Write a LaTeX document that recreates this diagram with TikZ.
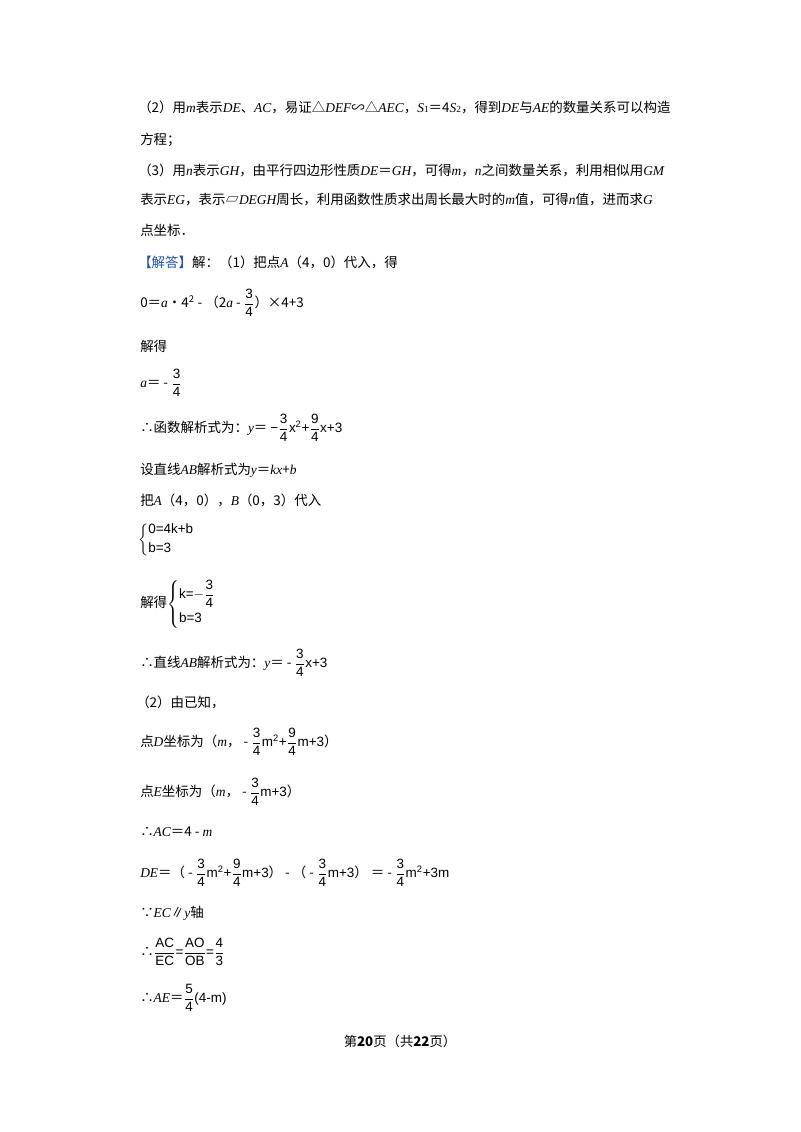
\documentclass[tikz,border=0pt]{standalone}
\usepackage{amsmath}
\usepackage{fontspec}
\setmainfont{Noto Sans CJK SC}
\newfontfamily\ls{Liberation Serif}
\newfontfamily\la{Liberation Sans}
\newcommand\iv[1]{{\ls\itshape #1}}
\newcommand\fr[2]{$\dfrac{\mbox{\la #1}}{\mbox{\la #2}}$}
\definecolor{ansblue}{RGB}{30,80,200}
\begin{document}
\begin{tikzpicture}[x=0.75pt,y=-0.75pt,
  tl/.style={anchor=west,inner sep=0pt,font=\fontsize{10.1}{12}\selectfont}]
\useasboundingbox (0,0) rectangle (800,1132);
\node[tl] (l1) at (138,107) {（2）用\iv{m}表示\iv{DE}、\iv{AC}，易证△\iv{DEF}∽△\iv{AEC}，\iv{S}{\ls\scriptsize 1}＝4\iv{S}{\ls\scriptsize 2}，得到\iv{DE}与\iv{AE}的数量关系可以构造};
\node[tl] (l2) at (140,140) {方程；};
\node[tl] (l3) at (138,170) {（3）用\iv{n}表示\iv{GH}，由平行四边形性质\iv{DE}＝\iv{GH}，可得\iv{m}，\iv{n}之间数量关系，利用相似用\iv{GM}};
\node[tl] (l4) at (140,200) {表示\iv{EG}，表示▱\iv{DEGH}周长，利用函数性质求出周长最大时的\iv{m}值，可得\iv{n}值，进而求\iv{G}};
\node[tl] (l5) at (140,230) {点坐标．};
\node[tl] (l6) at (138,262) {{\color{ansblue}【解答】}解：（1）把点\iv{A}（4，0）代入，得};
\node[tl] (l7) at (140,303) {0＝\iv{a}•4$^{\mbox{\scriptsize 2}}$ - （2\iv{a} - \fr{3}{4}）×4+3};
\node[tl] (l8) at (140,346) {解得};
\node[tl] (l9) at (140,383) {\iv{a}＝ - \fr{3}{4}};
\node[tl] (l10) at (140,428) {∴函数解析式为：\iv{y}＝ {\la −}\fr{3}{4}{\la x$^{\mbox{\scriptsize 2}}$+}\fr{9}{4}{\la x+3}};
\node[tl] (l11) at (140,470) {设直线\iv{AB}解析式为\iv{y}＝\iv{kx}+\iv{b}};
\node[tl] (l12) at (140,500) {把\iv{A}（4，0），\iv{B}（0，3）代入};
\node[tl] (l13) at (138,540) {$\left\{\begin{array}{@{}l}\mbox{\la 0=4k+b}\\[2pt]\mbox{\la b=3}\end{array}\right.$};
\node[tl] (l14) at (140,604) {解得$\left\{\begin{array}{@{}l}\mbox{\la k=}{-}\dfrac{\mbox{\la 3}}{\mbox{\la 4}}\\[6pt]\mbox{\la b=3}\end{array}\right.$};
\node[tl] (l15) at (140,663) {∴直线\iv{AB}解析式为：\iv{y}＝ - \fr{3}{4}{\la x+3}};
\node[tl] (l16) at (136,702) {（2）由已知，};
\node[tl] (l17) at (140,742) {点\iv{D}坐标为（\iv{m}， - \fr{3}{4}{\la m$^{\mbox{\scriptsize 2}}$+}\fr{9}{4}{\la m+3}）};
\node[tl] (l18) at (140,792) {点\iv{E}坐标为（\iv{m}， - \fr{3}{4}{\la m+3}）};
\node[tl] (l19) at (140,832) {∴\iv{AC}＝4 - \iv{m}};
\node[tl] (l20) at (140,873) {\iv{DE}＝（ - \fr{3}{4}{\la m$^{\mbox{\scriptsize 2}}$+}\fr{9}{4}{\la m+3}） - （ - \fr{3}{4}{\la m+3}） ＝ - \fr{3}{4}{\la m$^{\mbox{\scriptsize 2}}$+3m}};
\node[tl] (l21) at (140,913) {∵\iv{EC}∥\iv{y}轴};
\node[tl] (l22) at (140,952) {∴\fr{AC}{EC}{\la =}\fr{AO}{OB}{\la =}\fr{4}{3}};
\node[tl] (l23) at (140,998) {∴\iv{AE}＝\fr{5}{4}{\la (4-m)}};
\node[anchor=center,inner sep=0pt,font=\fontsize{10}{12}\selectfont] (foot) at (400,1041) {第\textbf{20}页（共\textbf{22}页）};
\end{tikzpicture}
\end{document}
